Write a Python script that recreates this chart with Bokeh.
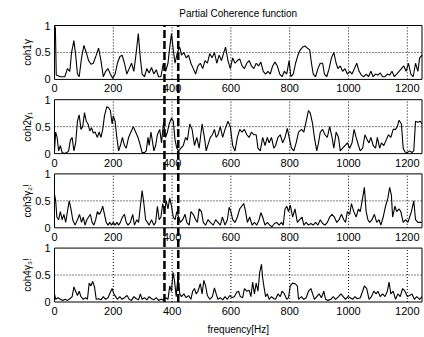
from bokeh.plotting import figure
from bokeh.models import Range1d
from bokeh.embed import file_html
from bokeh.resources import INLINE
from bokeh.core.properties import value
import math

title_text = "Partial Coherence function"
ylabels = ["coh1γ", "coh2γ₁", "coh3γ₂!", "coh4γ₃!"]
xlabel_text = "frequency[Hz]"
xticks = [0, 200, 400, 600, 800, 1000, 1200]
yticks = [0, 0.5, 1]
band_edges = [374, 421]

freq1 = [0, 3, 6, 20, 35, 44, 52, 58, 66, 72, 78, 84, 92, 100, 108, 116, 124, 132, 142, 150, 158, 166, 174, 182, 190, 198, 206, 214, 222, 230, 238, 246, 254, 262, 270, 278, 285, 292, 298, 306, 314, 322, 330, 338, 346, 354, 362, 370, 378, 386, 392, 398, 404, 410, 418, 426, 432, 440, 448, 456, 464, 472, 480, 488, 496, 504, 512, 520, 528, 536, 544, 552, 560, 568, 576, 582, 590, 598, 606, 614, 622, 630, 638, 646, 654, 662, 670, 678, 686, 694, 702, 710, 718, 726, 734, 742, 750, 758, 766, 774, 782, 790, 798, 804, 812, 820, 828, 836, 844, 852, 860, 868, 874, 880, 888, 896, 904, 912, 918, 926, 934, 942, 950, 958, 964, 972, 980, 988, 996, 1004, 1012, 1020, 1028, 1036, 1044, 1052, 1060, 1068, 1076, 1084, 1092, 1100, 1108, 1116, 1124, 1132, 1140, 1148, 1156, 1164, 1172, 1180, 1188, 1196, 1204, 1212, 1220, 1228, 1236, 1242, 1250]
coh1 = [1.0, 0.95, 0.08, 0.05, 0.05, 0.2, 0.15, 0.5, 0.72, 0.45, 0.1, 0.05, 0.4, 0.63, 0.5, 0.35, 0.28, 0.3, 0.45, 0.58, 0.35, 0.05, 0.15, 0.2, 0.1, 0.02, 0.1, 0.3, 0.42, 0.45, 0.3, 0.1, 0.2, 0.3, 0.15, 0.5, 0.85, 0.4, 0.1, 0.05, 0.2, 0.12, 0.22, 0.1, 0.18, 0.05, 0.05, 0.3, 0.15, 0.3, 0.6, 0.85, 0.55, 0.3, 0.5, 0.6, 0.45, 0.5, 0.4, 0.45, 0.3, 0.2, 0.1, 0.25, 0.3, 0.2, 0.35, 0.3, 0.48, 0.4, 0.5, 0.3, 0.45, 0.35, 0.5, 0.6, 0.35, 0.2, 0.4, 0.3, 0.35, 0.38, 0.25, 0.2, 0.3, 0.35, 0.25, 0.2, 0.3, 0.25, 0.32, 0.15, 0.1, 0.15, 0.1, 0.25, 0.32, 0.25, 0.1, 0.05, 0.15, 0.1, 0.35, 0.05, 0.1, 0.3, 0.45, 0.55, 0.6, 0.62, 0.58, 0.55, 0.3, 0.1, 0.05, 0.2, 0.3, 0.3, 0.1, 0.05, 0.2, 0.4, 0.5, 0.3, 0.2, 0.25, 0.15, 0.2, 0.1, 0.15, 0.1, 0.2, 0.3, 0.15, 0.08, 0.05, 0.1, 0.05, 0.15, 0.05, 0.1, 0.08, 0.12, 0.05, 0.05, 0.1, 0.08, 0.15, 0.05, 0.1, 0.15, 0.2, 0.25, 0.15, 0.3, 0.1, 0.05, 0.3, 0.15, 0.4, 0.45]

freq2 = [0, 4, 9, 14, 20, 26, 34, 42, 48, 54, 60, 66, 72, 78, 84, 90, 96, 102, 108, 114, 120, 126, 132, 138, 146, 152, 158, 164, 170, 178, 184, 190, 196, 200, 206, 212, 218, 224, 231, 238, 244, 252, 260, 268, 276, 284, 292, 298, 306, 312, 318, 322, 328, 334, 338, 344, 350, 358, 364, 371, 378, 384, 390, 398, 404, 410, 416, 422, 430, 438, 446, 452, 460, 468, 476, 484, 492, 502, 510, 516, 524, 530, 537, 544, 550, 556, 564, 572, 580, 590, 598, 606, 614, 622, 630, 638, 646, 654, 662, 670, 678, 686, 692, 700, 708, 716, 724, 730, 738, 746, 752, 760, 768, 776, 784, 792, 798, 806, 814, 822, 830, 840, 848, 856, 864, 870, 878, 884, 892, 898, 904, 912, 920, 928, 936, 944, 950, 958, 966, 972, 980, 988, 996, 1004, 1012, 1019, 1026, 1034, 1040, 1048, 1056, 1064, 1070, 1076, 1084, 1092, 1098, 1106, 1112, 1120, 1128, 1136, 1144, 1152, 1160, 1166, 1172, 1180, 1186, 1192, 1200, 1208, 1216, 1222, 1228, 1236, 1244, 1250]
coh2 = [0.05, 0.4, 0.3, 0.05, 0.15, 0.02, 0.0, 0.02, 0.05, 0.25, 0.3, 0.05, 0.2, 0.6, 0.72, 0.45, 0.5, 0.76, 0.6, 0.55, 0.42, 0.48, 0.38, 0.4, 0.3, 0.4, 0.3, 0.45, 0.7, 0.87, 0.85, 0.8, 0.55, 0.7, 0.6, 0.3, 0.05, 0.15, 0.3, 0.15, 0.1, 0.3, 0.4, 0.5, 0.4, 0.3, 0.15, 0.02, 0.02, 0.05, 0.3, 0.15, 0.4, 0.2, 0.05, 0.15, 0.35, 0.45, 0.2, 0.58, 0.3, 0.4, 0.55, 0.66, 0.6, 0.25, 0.1, 0.05, 0.1, 0.15, 0.3, 0.25, 0.55, 0.45, 0.15, 0.3, 0.1, 0.55, 0.3, 0.05, 0.2, 0.3, 0.35, 0.45, 0.3, 0.35, 0.5, 0.3, 0.45, 0.6, 0.5, 0.15, 0.05, 0.3, 0.45, 0.4, 0.45, 0.35, 0.3, 0.4, 0.35, 0.35, 0.1, 0.05, 0.3, 0.15, 0.3, 0.2, 0.3, 0.1, 0.15, 0.3, 0.35, 0.2, 0.3, 0.47, 0.3, 0.1, 0.05, 0.2, 0.4, 0.45, 0.4, 0.6, 0.8, 0.75, 0.55, 0.3, 0.05, 0.2, 0.4, 0.45, 0.35, 0.3, 0.5, 0.3, 0.1, 0.4, 0.3, 0.05, 0.1, 0.15, 0.2, 0.1, 0.2, 0.45, 0.3, 0.15, 0.05, 0.1, 0.35, 0.25, 0.2, 0.3, 0.15, 0.1, 0.3, 0.1, 0.2, 0.15, 0.25, 0.35, 0.3, 0.45, 0.45, 0.5, 0.62, 0.55, 0.1, 0.03, 0.02, 0.05, 0.02, 0.05, 0.6, 0.58, 0.6, 0.55]

freq3 = [0, 4, 8, 14, 20, 26, 32, 38, 44, 50, 56, 62, 70, 78, 85, 92, 98, 104, 110, 116, 122, 128, 134, 140, 146, 152, 158, 164, 170, 176, 182, 188, 194, 200, 206, 212, 218, 224, 231, 238, 244, 250, 258, 266, 272, 280, 286, 292, 298, 304, 310, 316, 322, 330, 338, 344, 350, 356, 362, 368, 374, 380, 386, 392, 398, 404, 410, 416, 422, 428, 436, 444, 450, 458, 464, 472, 480, 486, 492, 500, 506, 514, 522, 530, 540, 548, 556, 564, 571, 580, 588, 594, 600, 606, 614, 622, 630, 638, 644, 650, 656, 664, 672, 680, 688, 696, 702, 708, 716, 724, 732, 740, 748, 756, 764, 772, 778, 784, 790, 796, 802, 810, 818, 826, 834, 842, 848, 856, 864, 872, 880, 888, 896, 904, 912, 920, 928, 936, 944, 952, 960, 968, 976, 984, 990, 996, 1004, 1010, 1018, 1026, 1034, 1040, 1048, 1054, 1060, 1066, 1072, 1080, 1088, 1096, 1104, 1110, 1118, 1126, 1134, 1140, 1146, 1150, 1158, 1164, 1172, 1178, 1186, 1194, 1202, 1208, 1214, 1222, 1228, 1236, 1244, 1250]
coh3 = [0.62, 0.5, 0.2, 0.15, 0.3, 0.15, 0.25, 0.1, 0.3, 0.5, 0.35, 0.15, 0.05, 0.15, 0.25, 0.1, 0.2, 0.05, 0.15, 0.2, 0.25, 0.1, 0.05, 0.15, 0.3, 0.25, 0.3, 0.4, 0.25, 0.1, 0.05, 0.1, 0.05, 0.1, 0.05, 0.1, 0.05, 0.1, 0.2, 0.25, 0.1, 0.05, 0.1, 0.25, 0.05, 0.15, 0.1, 0.4, 0.69, 0.45, 0.15, 0.1, 0.05, 0.15, 0.05, 0.1, 0.4, 0.15, 0.2, 0.45, 0.3, 0.5, 0.35, 0.55, 0.4, 0.2, 0.15, 0.3, 0.2, 0.1, 0.15, 0.25, 0.1, 0.05, 0.3, 0.25, 0.15, 0.1, 0.35, 0.3, 0.1, 0.05, 0.15, 0.1, 0.05, 0.15, 0.1, 0.05, 0.2, 0.05, 0.15, 0.38, 0.3, 0.15, 0.1, 0.2, 0.35, 0.41, 0.45, 0.3, 0.1, 0.2, 0.05, 0.1, 0.05, 0.15, 0.28, 0.2, 0.05, 0.1, 0.05, 0.02, 0.08, 0.1, 0.05, 0.1, 0.05, 0.35, 0.4, 0.3, 0.42, 0.2, 0.35, 0.1, 0.15, 0.2, 0.05, 0.1, 0.05, 0.08, 0.05, 0.1, 0.05, 0.15, 0.08, 0.05, 0.1, 0.2, 0.25, 0.2, 0.1, 0.15, 0.25, 0.15, 0.1, 0.3, 0.25, 0.45, 0.3, 0.2, 0.35, 0.3, 0.55, 0.75, 0.3, 0.15, 0.1, 0.15, 0.25, 0.1, 0.15, 0.05, 0.2, 0.4, 0.55, 0.75, 0.6, 0.2, 0.4, 0.3, 0.35, 0.3, 0.1, 0.15, 0.1, 0.2, 0.3, 0.5, 0.15, 0.1, 0.1, 0.1]

freq4 = [0, 4, 12, 20, 28, 36, 44, 52, 60, 66, 72, 78, 84, 90, 98, 106, 112, 118, 124, 130, 136, 142, 150, 158, 166, 174, 182, 190, 196, 202, 208, 214, 222, 230, 238, 247, 254, 262, 270, 278, 286, 292, 298, 306, 314, 322, 330, 338, 346, 354, 362, 370, 378, 386, 392, 398, 403, 408, 414, 420, 426, 432, 440, 448, 456, 464, 470, 476, 482, 488, 496, 502, 508, 514, 520, 528, 537, 544, 550, 556, 564, 572, 580, 588, 596, 604, 612, 620, 626, 632, 640, 646, 654, 662, 668, 674, 680, 686, 692, 698, 704, 708, 712, 718, 724, 730, 738, 746, 752, 760, 768, 774, 782, 790, 796, 802, 810, 818, 826, 830, 840, 848, 856, 864, 872, 878, 884, 892, 900, 908, 916, 922, 930, 940, 948, 956, 966, 974, 982, 990, 998, 1006, 1014, 1022, 1030, 1040, 1048, 1054, 1062, 1070, 1078, 1086, 1094, 1100, 1108, 1116, 1124, 1132, 1138, 1144, 1152, 1160, 1168, 1176, 1184, 1192, 1200, 1208, 1216, 1224, 1232, 1242, 1250]
coh4 = [0.15, 0.05, 0.08, 0.05, 0.03, 0.05, 0.03, 0.06, 0.1, 0.28, 0.2, 0.12, 0.2, 0.1, 0.05, 0.08, 0.05, 0.35, 0.3, 0.38, 0.28, 0.05, 0.06, 0.04, 0.1, 0.05, 0.08, 0.18, 0.25, 0.15, 0.1, 0.05, 0.1, 0.05, 0.08, 0.12, 0.05, 0.03, 0.1, 0.06, 0.04, 0.15, 0.05, 0.08, 0.04, 0.1, 0.06, 0.04, 0.08, 0.03, 0.05, 0.04, 0.08, 0.05, 0.3, 0.2, 0.55, 0.4, 0.1, 0.48, 0.15, 0.1, 0.15, 0.08, 0.12, 0.05, 0.2, 0.25, 0.15, 0.2, 0.34, 0.15, 0.4, 0.3, 0.12, 0.05, 0.1, 0.26, 0.15, 0.05, 0.08, 0.04, 0.1, 0.05, 0.12, 0.08, 0.1, 0.18, 0.2, 0.1, 0.08, 0.25, 0.2, 0.22, 0.1, 0.37, 0.15, 0.35, 0.2, 0.55, 0.7, 0.45, 0.3, 0.1, 0.15, 0.05, 0.1, 0.06, 0.05, 0.15, 0.1, 0.2, 0.15, 0.05, 0.08, 0.3, 0.35, 0.34, 0.3, 0.05, 0.1, 0.05, 0.08, 0.2, 0.25, 0.15, 0.05, 0.1, 0.15, 0.08, 0.2, 0.05, 0.03, 0.05, 0.1, 0.05, 0.1, 0.15, 0.1, 0.05, 0.1, 0.08, 0.05, 0.1, 0.06, 0.08, 0.2, 0.3, 0.25, 0.05, 0.1, 0.2, 0.15, 0.2, 0.1, 0.15, 0.1, 0.2, 0.37, 0.15, 0.2, 0.05, 0.15, 0.1, 0.25, 0.2, 0.1, 0.12, 0.15, 0.05, 0.1, 0.05, 0.1]

freqs = [freq1, freq2, freq3, freq4]
cohs = [coh1, coh2, coh3, coh4]

# ---- layout (the plot frame fills the whole canvas; everything drawn in data space) ----
FONT = "Liberation Sans"
W, H = 424, 337
X_MAX = 1250
PX_X = 0.294            # pixels per Hz
X0_PX = 54              # pixel column of 0 Hz
GAP = 0.376             # gap between panels, in panel heights
bases = [(3 - i) * (1 + GAP) for i in range(4)]
Y_TOP = bases[0] + 1
PX_Y = 53.92            # pixels per panel unit
TOP_PX = 25             # pixel row of panel-1 top

x_start = -X0_PX / PX_X
x_end = x_start + W / PX_X
y_end = Y_TOP + TOP_PX / PX_Y
y_start = y_end - H / PX_Y


def dx(px):
    return px / PX_X


def dy(px):
    return px / PX_Y


p = figure(width=W, height=H, output_backend="svg", toolbar_location=None,
           x_range=Range1d(x_start, x_end), y_range=Range1d(y_start, y_end),
           min_border=0)
p.outline_line_color = None
p.axis.visible = False
p.xgrid.visible = False
p.ygrid.visible = False
p.background_fill_color = "white"
p.border_fill_color = "white"

gx = [t for t in xticks if t > 0]
for i, b in enumerate(bases):
    # dotted grid
    p.segment(x0=gx, y0=[b] * len(gx), x1=gx, y1=[b + 1] * len(gx),
              line_color="black", line_width=1, line_dash="1 2")
    p.segment(x0=[0], y0=[b + 0.5], x1=[X_MAX], y1=[b + 0.5],
              line_color="black", line_width=1, line_dash="1 2")
    # data
    p.line(freqs[i], [c + b for c in cohs[i]], line_color="black", line_width=1.1)
    # frame
    p.quad(left=[0], right=[X_MAX], bottom=[b], top=[b + 1],
           fill_color=None, line_color="black", line_width=1)
    # x tick labels
    p.text(x=xticks, y=[b - dy(5)] * len(xticks),
           text=[str(t) for t in xticks], text_align="center", text_baseline="top",
           text_font=value(FONT), text_font_size="11px", text_color="black")
    # y tick labels
    p.text(x=[-dx(4)] * len(yticks), y=[b + t for t in yticks],
           text=["%g" % t for t in yticks], text_align="right", text_baseline="middle",
           text_font=value(FONT), text_font_size="11px", text_color="black")
    # y label
    p.text(x=[-dx(27)], y=[b + 0.5], text=[ylabels[i]], angle=math.pi / 2,
           text_align="center", text_baseline="middle",
           text_font=value(FONT), text_font_size="10px", text_color="black")

# thick dashed band markers across all panels
p.segment(x0=band_edges, y0=[0] * 2, x1=band_edges, y1=[Y_TOP] * 2,
          line_color="black", line_width=2.5, line_dash="8 3")

p.text(x=[X_MAX / 2], y=[Y_TOP + dy(12)], text=[title_text],
       text_align="center", text_baseline="middle",
       text_font=value(FONT), text_font_size="10px", text_color="black")
p.text(x=[X_MAX / 2], y=[-dy(27)], text=[xlabel_text],
       text_align="center", text_baseline="middle",
       text_font=value(FONT), text_font_size="10px", text_color="black")

open("out.html", "w").write(file_html(p, INLINE))
